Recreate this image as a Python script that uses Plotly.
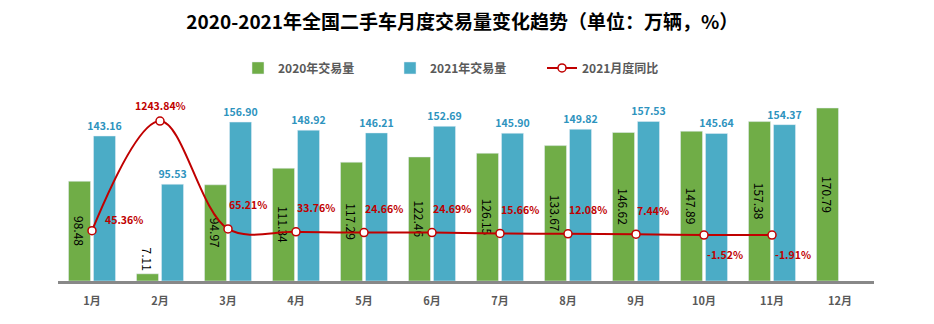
import plotly.graph_objects as go

months = ["1月", "2月", "3月", "4月", "5月", "6月", "7月", "8月", "9月", "10月", "11月", "12月"]
vol_2020 = [98.48, 7.11, 94.97, 111.34, 117.29, 122.46, 126.15, 133.67, 146.62, 147.89, 157.38, 170.79]
vol_2021 = [143.16, 95.53, 156.90, 148.92, 146.21, 152.69, 145.90, 149.82, 157.53, 145.64, 154.37]
yoy_2021 = [45.36, 1243.84, 65.21, 33.76, 24.66, 24.69, 15.66, 12.08, 7.44, -1.52, -1.91]

GREEN = "#70AD47"
BLUE = "#4BACC6"
RED = "#C00000"
FONT = "Noto Sans CJK SC"

fig = go.Figure()
fig.add_trace(go.Bar(
    x=months, y=vol_2020, name="2020年交易量",
    marker_color=GREEN,
    text=[f"{v:.2f}" for v in vol_2020],
    textposition="auto", textangle=90,
    insidetextanchor="middle",
    constraintext="none",
    textfont=dict(family=FONT, size=12, color="black"),
    insidetextfont=dict(family=FONT, size=12, color="black"),
    outsidetextfont=dict(family=FONT, size=12, color="black"),
    cliponaxis=False,
))
fig.add_trace(go.Bar(
    x=months[:len(vol_2021)], y=vol_2021, name="2021年交易量",
    marker_color=BLUE,
    text=[f"{v:.2f}" for v in vol_2021],
    textposition="outside", textangle=0,
    constraintext="none",
    textfont=dict(family=FONT, size=10.5, color="#2E93BE", weight="bold"),
    cliponaxis=False,
))
fig.add_trace(go.Scatter(
    x=months[:len(yoy_2021)], y=yoy_2021, name="2021月度同比",
    yaxis="y2", mode="lines+markers",
    line=dict(color=RED, width=2, shape="spline", smoothing=1.0),
    marker=dict(size=8, color="white", line=dict(color=RED, width=1.5)),
    cliponaxis=False,
))

# percentage labels placed next to the line markers
annotations = []
for i, (m, v) in enumerate(zip(months, yoy_2021)):
    if v > 1000:
        xa, xs, ys = "center", 0, 16
    elif v < 0:
        xa, xs, ys = "left", 1, -19
    elif i == 0:
        xa, xs, ys = "left", 11, 11
    else:
        xa, xs, ys = "left", -1, 24
    annotations.append(dict(
        x=m, y=v, xref="x", yref="y2", text=f"{v:.2f}%", showarrow=False,
        xanchor=xa, yanchor="middle", xshift=xs, yshift=ys,
        font=dict(family=FONT, size=10.5, color=RED, weight="bold"),
    ))

fig.update_layout(
    width=934, height=324,
    margin=dict(l=58, r=60, t=100, b=43, autoexpand=False),
    paper_bgcolor="white", plot_bgcolor="white",
    barmode="group", bargap=0.265, bargroupgap=0.12,
    title=dict(text="2020-2021年全国二手车月度交易量变化趋势（单位：万辆，%）",
               x=0.495, xanchor="center", y=0.93, yanchor="middle",
               font=dict(family=FONT, size=19, color="black", weight="bold")),
    legend=dict(orientation="h", x=0.5, xanchor="center", y=1.177, yanchor="middle",
                font=dict(family=FONT, size=12, color="#595959", weight="bold"),
                itemwidth=30, entrywidth=107, entrywidthmode="pixels", traceorder="normal"),
    xaxis=dict(showgrid=False, showline=True, linecolor="#888888", linewidth=2.5,
               ticks="", automargin=False, ticklabelstandoff=8,
               range=[-0.5, len(months) - 0.5],
               tickfont=dict(family=FONT, size=11, color="#595959", weight="bold")),
    yaxis=dict(range=[0, 178.7], visible=False, showgrid=False, automargin=False),
    yaxis2=dict(range=[-504, 1474], overlaying="y", side="right", visible=False,
                showgrid=False, automargin=False),
    annotations=annotations,
    showlegend=True,
)

fig.write_html("out.html")
